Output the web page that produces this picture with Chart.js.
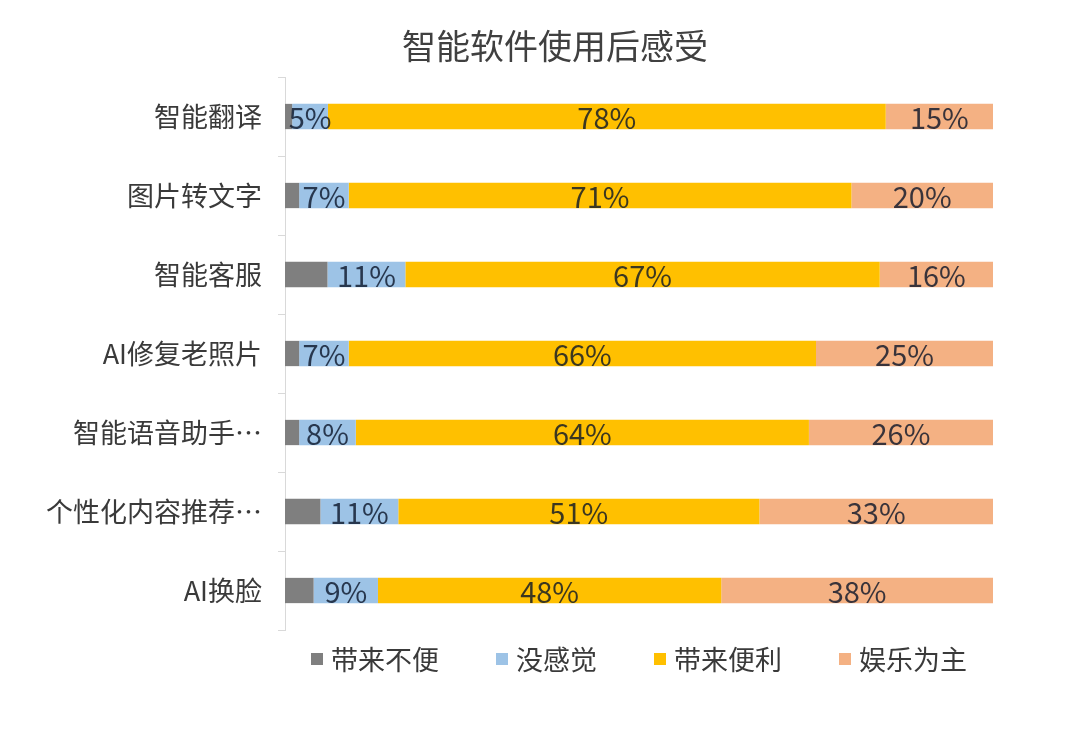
<!DOCTYPE html>
<html>
<head>
<meta charset="utf-8">
<script src="https://cdn.jsdelivr.net/npm/chart.js@4"></script>
<style>
  body { margin: 0; background: #fff; }
  #wrap { width: 1080px; height: 745px; }
</style>
</head>
<body>
<div id="wrap"><canvas id="chart"></canvas></div>
<script>
const chartTitle = '智能软件使用后感受';
const categories = ['智能翻译', '图片转文字', '智能客服', 'AI修复老照片', '智能语音助手…', '个性化内容推荐…', 'AI换脸'];
const seriesNames = ['带来不便', '没感觉', '带来便利', '娱乐为主'];
const inconvenient = [1, 2, 6, 2, 2, 5, 4];
const noFeeling = [5, 7, 11, 7, 8, 11, 9];
const convenient = [78, 71, 67, 66, 64, 51, 48];
const entertainment = [15, 20, 16, 25, 26, 33, 38];
const colors = ['#7f7f7f', '#9dc3e6', '#ffc000', '#f4b183'];

const rawSeries = [inconvenient, noFeeling, convenient, entertainment];
// each bar is shown as share of its row total (100% stacked)
const rowTotals = categories.map((c, i) => rawSeries.reduce((s, arr) => s + arr[i], 0));

const FONT = '"Noto Sans CJK SC", "Noto Sans", sans-serif';

// title drawn a bit left of the plot centre, like the original
const topTitle = {
  id: 'topTitle',
  afterDraw(chart) {
    const ctx = chart.ctx;
    ctx.save();
    ctx.font = '34px ' + FONT;
    ctx.fillStyle = '#404040';
    ctx.textAlign = 'center';
    ctx.textBaseline = 'middle';
    ctx.fillText(chartTitle, 555, 46);
    ctx.restore();
  }
};

// value labels inside the segments (not on the grey one)
const valueLabels = {
  id: 'valueLabels',
  afterDatasetsDraw(chart) {
    const ctx = chart.ctx;
    ctx.save();
    ctx.font = '29px ' + FONT;
    ctx.fillStyle = 'rgba(10, 20, 40, 0.8)';
    ctx.textAlign = 'center';
    ctx.textBaseline = 'middle';
    chart.data.datasets.forEach((ds, di) => {
      if (di === 0) return;
      chart.getDatasetMeta(di).data.forEach((el, i) => {
        ctx.fillText(ds.raw[i] + '%', (el.x + el.base) / 2, el.y + 1);
      });
    });
    ctx.restore();
  }
};

// legend under the plot, centred on the chart area
const bottomLegend = {
  id: 'bottomLegend',
  afterDraw(chart) {
    const ctx = chart.ctx;
    const area = chart.chartArea;
    const box = 12, gapText = 8, gapItem = 57;
    ctx.save();
    ctx.font = '27px ' + FONT;
    ctx.textBaseline = 'middle';
    const widths = chart.data.datasets.map(ds => box + gapText + ctx.measureText(ds.label).width);
    const total = widths.reduce((a, b) => a + b, 0) + gapItem * (widths.length - 1);
    let x = (area.left + area.right) / 2 - total / 2;
    const y = area.bottom + 29;
    chart.data.datasets.forEach((ds, i) => {
      ctx.fillStyle = ds.backgroundColor;
      ctx.fillRect(x, y - box / 2, box, box);
      ctx.fillStyle = '#3a3a3a';
      ctx.textAlign = 'left';
      ctx.fillText(ds.label, x + box + gapText, y + 1);
      x += widths[i] + gapItem;
    });
    ctx.restore();
  }
};

new Chart(document.getElementById('chart'), {
  type: 'bar',
  data: {
    labels: categories,
    datasets: rawSeries.map((arr, k) => ({
      label: seriesNames[k],
      raw: arr,
      data: arr.map((v, i) => v / rowTotals[i] * 100),
      backgroundColor: colors[k],
      borderWidth: 0,
      categoryPercentage: 0.8,
      barPercentage: 0.4
    }))
  },
  options: {
    indexAxis: 'y',
    responsive: true,
    maintainAspectRatio: false,
    animation: false,
    layout: { padding: { top: 77, left: 20, right: 87, bottom: 115 } },
    scales: {
      x: { stacked: true, min: 0, max: 100, display: false },
      y: {
        stacked: true,
        afterFit: (scale) => { scale.width = 265; },
        grid: { drawOnChartArea: false, drawTicks: true, tickLength: 7, color: '#d9d9d9' },
        border: { display: true, color: '#d9d9d9' },
        ticks: { font: { family: FONT, size: 27 }, color: '#3a3a3a', padding: 16 }
      }
    },
    plugins: {
      legend: { display: false },
      tooltip: { enabled: false },
      title: { display: false }
    }
  },
  plugins: [valueLabels, bottomLegend, topTitle]
});
</script>
</body>
</html>
